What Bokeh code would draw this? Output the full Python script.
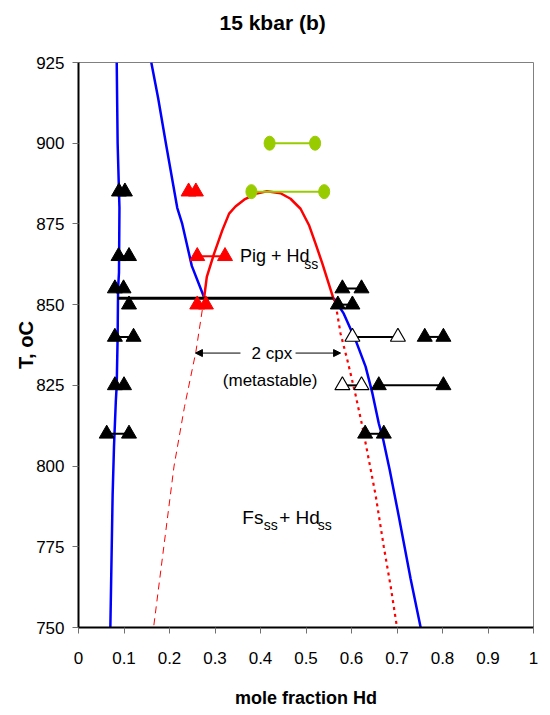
from bokeh.plotting import figure
from bokeh.models import (Range1d, FixedTicker, NumeralTickFormatter, Label,
                          Arrow, NormalHead, Title)
from bokeh.embed import file_html
from bokeh.resources import INLINE

# ---------------- data ----------------
title_text = "15 kbar (b)"
x_label = "mole fraction Hd"
y_label = "T, oC"
x_ticks = [0, 0.1, 0.2, 0.3, 0.4, 0.5, 0.6, 0.7, 0.8, 0.9, 1.0]
y_ticks = [750, 775, 800, 825, 850, 875, 900, 925]

# Fs-rich solvus (left blue line)
fs_x = [0.084, 0.086, 0.090, 0.089, 0.087, 0.086, 0.084, 0.082, 0.078, 0.075, 0.070]
fs_T = [925, 900, 880, 860, 855, 840, 825, 820, 806, 791, 750]

# pigeonite boundary (second blue line)
pig_x = [0.160, 0.175, 0.192, 0.217, 0.228, 0.249, 0.274, 0.276]
pig_T = [925, 914, 900, 880, 875, 862, 853, 852]

# Hd-rich solvus (right blue line)
hd_x = [0.561, 0.583, 0.609, 0.631, 0.646, 0.660, 0.670, 0.684, 0.704, 0.730, 0.752]
hd_T = [852, 847.2, 839, 830.8, 822.5, 813.2, 808, 798.8, 784.4, 765, 750]

# Pig + Hd dome (red)
dome_x = [0.276, 0.282, 0.298, 0.316, 0.331, 0.345, 0.364, 0.389, 0.414, 0.444,
          0.466, 0.488, 0.507, 0.521, 0.536, 0.560]
dome_T = [852, 858.6, 865.8, 873, 878.2, 880.4, 882.5, 884.3, 885.1, 884.5,
          882.8, 879.7, 874.5, 868.9, 862.7, 852]

# metastable 2 cpx limbs
meta_left_x = [0.276, 0.258, 0.233, 0.210, 0.165]
meta_left_T = [852, 835.4, 818.4, 800, 750]
meta_right_x = [0.560, 0.565, 0.576, 0.591, 0.609, 0.624, 0.638, 0.653, 0.671, 0.686, 0.700]
meta_right_T = [852, 850.3, 841, 832.8, 822, 812.2, 802, 791, 775, 762.8, 750]

# three-phase isotherm
iso_x = [0.086, 0.560]
iso_T = [852, 852]

# experiments: filled black triangles (pairs)
blk_lo = [0.089, 0.088, 0.080, 0.080, 0.080, 0.062, 0.580, 0.570, 0.761, 0.660, 0.630]
blk_hi = [0.102, 0.111, 0.099, 0.121, 0.100, 0.111, 0.622, 0.602, 0.802, 0.802, 0.671]
blk_T = [885, 865, 855, 840, 825, 810, 855, 850, 840, 825, 810]
blk_single_x = [0.111]
blk_single_T = [850]

# open triangles
open_lo = [0.602, 0.580]
open_hi = [0.702, 0.622]
open_T = [840, 825]

# red triangles (pigeonite)
red_lo = [0.242, 0.261, 0.261]
red_hi = [0.258, 0.322, 0.280]
red_T = [885, 865, 850]

# green circles
grn_lo = [0.42, 0.38]
grn_hi = [0.52, 0.54]
grn_T = [900, 885]

# annotations
arrow_T = 835
arrow_left = [0.356, 0.257]    # tail, head
arrow_right = [0.477, 0.576]   # tail, head
cpx_text = ["2 cpx", "(metastable)"]
cpx_pos = [(0.425, 835), (0.421, 826.6)]

FONT = "Liberation Sans"

p = figure(width=545, height=710, x_range=Range1d(0, 1), y_range=Range1d(750, 925),
           output_backend="svg", toolbar_location=None,
           min_border_left=78, min_border_right=12, min_border_top=62, min_border_bottom=82)
p.title = Title(text=title_text, align="left", offset=141, text_font=FONT,
                text_font_style="bold", text_font_size="21px", text_color="black",
                vertical_align="bottom", standoff=0)
# empty spacer between the title and the plot frame
p.add_layout(Title(text=" ", text_font_size="10px", standoff=16), "above")
p.grid.visible = False
p.background_fill_color = "white"
p.border_fill_color = "white"
p.outline_line_color = "#808080"
p.outline_line_width = 1

for ax in (p.xaxis[0], p.yaxis[0]):
    ax.axis_line_color = "black"
    ax.axis_line_width = 2
    ax.major_tick_line_color = "#707070"
    ax.major_tick_line_width = 1
    ax.major_tick_out = 6
    ax.major_tick_in = 0
    ax.minor_tick_out = 0
    ax.minor_tick_in = 0
    ax.major_label_text_font = FONT
    ax.major_label_text_font_size = "17px"
    ax.major_label_text_color = "black"
    ax.axis_label_text_font = FONT
    ax.axis_label_text_font_style = "bold"
    ax.axis_label_text_color = "black"
    ax.axis_label_text_font_size = "18px"

p.yaxis.axis_label_text_font_size = "20px"
p.xaxis.ticker = FixedTicker(ticks=x_ticks)
p.yaxis.ticker = FixedTicker(ticks=y_ticks)
p.xaxis.formatter = NumeralTickFormatter(format="0.[0]")
p.xaxis.axis_label = x_label
p.yaxis.axis_label = y_label
p.xaxis.major_label_standoff = 18
p.yaxis.major_label_standoff = 8
p.xaxis.axis_label_standoff = 21
p.yaxis.axis_label_standoff = -4

BLUE = "#0000FF"
RED = "#FF0000"
GREEN = "#99CC00"

# phase boundaries
p.line(fs_x, fs_T, line_color=BLUE, line_width=2.5)
p.line(pig_x, pig_T, line_color=BLUE, line_width=2.5)
p.line(hd_x, hd_T, line_color=BLUE, line_width=2.5)
p.line(meta_left_x, meta_left_T, line_color=RED, line_width=1, line_dash="7 5")
p.line(meta_right_x, meta_right_T, line_color=RED, line_width=2.2, line_dash="3 4")
p.line(dome_x, dome_T, line_color=RED, line_width=2.5)
p.line(iso_x, iso_T, line_color="black", line_width=3)

# experiment tie lines and markers
p.segment(x0=grn_lo, y0=grn_T, x1=grn_hi, y1=grn_T, line_color=GREEN, line_width=2)
p.ellipse(x=grn_lo + grn_hi, y=grn_T + grn_T, width=11, height=14,
          width_units="screen", height_units="screen", fill_color=GREEN, line_color=GREEN)

p.segment(x0=blk_lo, y0=blk_T, x1=blk_hi, y1=blk_T, line_color="black", line_width=2)
p.segment(x0=open_lo, y0=open_T, x1=open_hi, y1=open_T, line_color="black", line_width=2)
p.segment(x0=red_lo, y0=red_T, x1=red_hi, y1=red_T, line_color=RED, line_width=2)

p.scatter(blk_lo + blk_hi + blk_single_x, blk_T + blk_T + blk_single_T, marker="triangle",
          size=15, fill_color="black", line_color="black")
p.scatter(open_lo + open_hi, open_T + open_T, marker="triangle", size=15,
          fill_color="white", line_color="black", line_width=1.2)
p.scatter(red_lo + red_hi, red_T + red_T, marker="triangle", size=15,
          fill_color=RED, line_color=RED)

# arrows
p.add_layout(Arrow(end=NormalHead(size=7, fill_color="black", line_color="black"),
                   x_start=arrow_left[0], y_start=arrow_T, x_end=arrow_left[1], y_end=arrow_T,
                   line_color="black", line_width=1))
p.add_layout(Arrow(end=NormalHead(size=7, fill_color="black", line_color="black"),
                   x_start=arrow_right[0], y_start=arrow_T, x_end=arrow_right[1], y_end=arrow_T,
                   line_color="black", line_width=1))

for txt, (tx, ty) in zip(cpx_text, cpx_pos):
    p.add_layout(Label(x=tx, y=ty, text=txt, text_align="center", text_baseline="middle",
                       text_font=FONT, text_font_size="17px", text_color="black"))

# field labels with subscripts
def label(x, y, text, size):
    p.add_layout(Label(x=x, y=y, text=text, text_align="left", text_baseline="middle",
                       text_font=FONT, text_font_size=size, text_color="black"))

label(0.355, 865, "Pig + Hd", "18px")
label(0.496, 862.6, "ss", "14px")
label(0.360, 784, "Fs", "19px")
label(0.407, 781.6, "ss", "14px")
label(0.441, 784, "+ Hd", "19px")
label(0.526, 781.6, "ss", "14px")

open("out.html", "w").write(file_html(p, INLINE))
